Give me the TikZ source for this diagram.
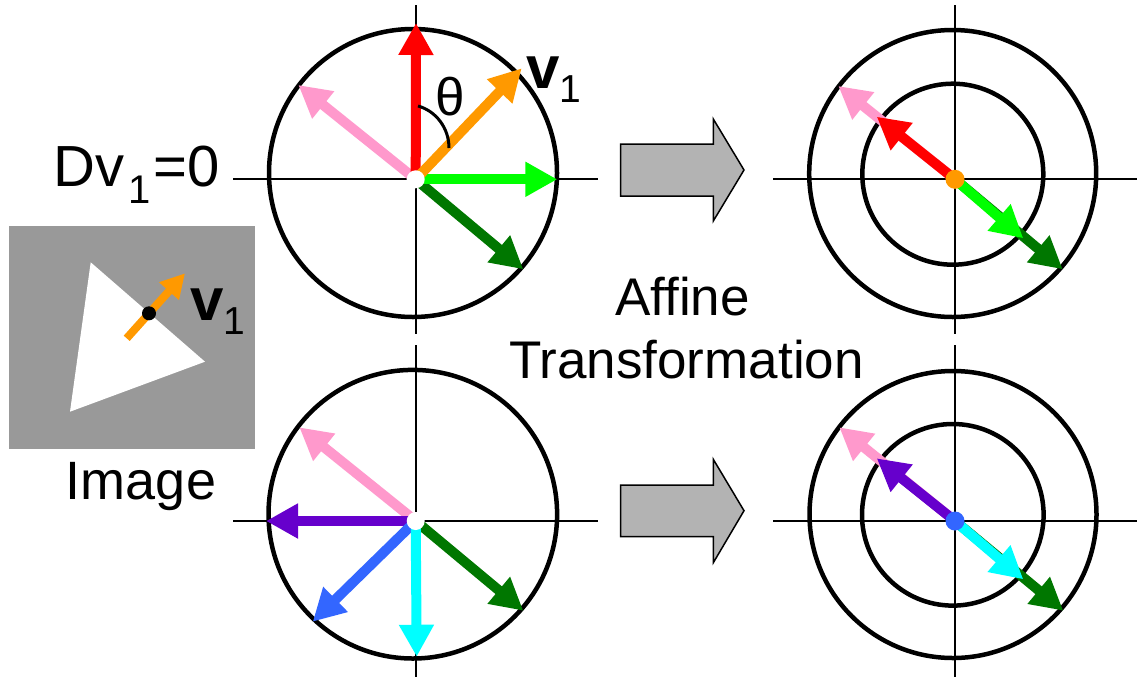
\documentclass[tikz,border=0pt]{standalone}
\usepackage{fontspec}
\setmainfont{Liberation Sans}
\usetikzlibrary{arrows.meta}

\definecolor{vpink}{HTML}{FF99CC}
\definecolor{vred}{HTML}{FF0000}
\definecolor{vorange}{HTML}{FF9900}
\definecolor{vgreen}{HTML}{00FF00}
\definecolor{vdkgreen}{HTML}{007700}
\definecolor{vpurple}{HTML}{6600CC}
\definecolor{vblue}{HTML}{3366FF}
\definecolor{vcyan}{HTML}{00FFFF}
\definecolor{imggray}{HTML}{999999}
\definecolor{blockgray}{HTML}{B3B3B3}

\tikzset{
  vec/.style={line width=10pt, -{Triangle[length=32pt,width=33pt]}},
  smallvec/.style={line width=8pt, -{Triangle[length=24pt,width=25pt]}},
  axisline/.style={line width=2pt, black},
  ring/.style={line width=4.5pt, black},
  blockarrow/.style={draw=black, line width=1.5pt, fill=blockgray, line join=miter},
  lbl/.style={inner sep=0pt, outer sep=0pt},
}
\newcommand{\bigtxt}{\fontsize{53}{60}\selectfont}
\newcommand{\vlabel}{{\fontsize{60}{60}\selectfont\bfseries v}\raisebox{-14pt}{\fontsize{39}{39}\selectfont 1}}

\begin{document}
\begin{tikzpicture}[x=1pt, y=-1pt]
\useasboundingbox (0,0) rectangle (1139,678);

% ---------- origins of the four vector fans ----------
\coordinate (O1) at (415.7,179.3);
\coordinate (O2) at (955,179.3);
\coordinate (O3) at (415.7,521);
\coordinate (O4) at (955,521);

% ---------- axes ----------
\coordinate (h1a) at (233,179.3);  \coordinate (h1b) at (598,179.3);
\coordinate (v1a) at (415.7,5);    \coordinate (v1b) at (415.7,334);
\coordinate (h2a) at (773,179.3);  \coordinate (h2b) at (1137,179.3);
\coordinate (v2a) at (955,5);      \coordinate (v2b) at (955,334);
\coordinate (h3a) at (233,521);    \coordinate (h3b) at (598,521);
\coordinate (v3a) at (415.7,345);  \coordinate (v3b) at (415.7,677);
\coordinate (h4a) at (773,521);    \coordinate (h4b) at (1137,521);
\coordinate (v4a) at (955,345);    \coordinate (v4b) at (955,677);
\foreach \a/\b in {h1a/h1b,v1a/v1b,h2a/h2b,v2a/v2b,h3a/h3b,v3a/v3b,h4a/h4b,v4a/v4b}
  \draw[axisline] (\a) -- (\b);

% ---------- circles ----------
\draw[ring] (413,173) circle[radius=144];
\draw[ring] (952.7,173.5) circle[radius=143.5];
\draw[ring] (952.8,174.2) circle[radius=90.5];
\draw[ring] (412.8,514.2) circle[radius=144.3];
\draw[ring] (953,514.5) circle[radius=143.5];
\draw[ring] (952.8,514.8) circle[radius=90.8];

% ---------- top left: vectors before the transformation ----------
\coordinate (t1pink) at (298.3,85);
\coordinate (t1red) at (416,23);
\coordinate (t1orange) at (521.7,68.3);
\coordinate (t1green) at (557.3,179.3);
\coordinate (t1dk) at (523.3,269.3);
\draw[vec, vpink] (O1) -- (t1pink);
\draw[vec, vdkgreen] (O1) -- (t1dk);
\draw[vec, vgreen] (O1) -- (t1green);
\draw[vec, vred] (O1) -- (t1red);
\draw[vec, vorange] (O1) -- (t1orange);
\fill[white] (O1) circle[radius=9];

% angle between the red vector and v1
\coordinate (arcA) at (418,106);
\coordinate (arcB) at (449,148);
\draw[line width=3pt] (arcA) .. controls (436,111) and (449,128) .. (arcB);
\node[lbl, font=\bigtxt] (theta) at (450,97) {θ};
\node[lbl, anchor=base west] (vtop) at (526,88.3) {\vlabel};

% ---------- top right: vectors after the transformation ----------
\coordinate (t2pink) at (838.3,86);
\coordinate (t2red) at (876.7,116.7);
\coordinate (t2green) at (1023.3,238.3);
\coordinate (t2dk) at (1062.7,269.3);
\draw[vec, vpink] (O2) -- (t2pink);
\draw[vec, vdkgreen] (O2) -- (t2dk);
\draw[vec, vred] (O2) -- (t2red);
\draw[vec, vgreen] (O2) -- (t2green);
\fill[vorange] (O2) circle[radius=9.5];

% ---------- bottom left ----------
\coordinate (t3pink) at (299.3,427.3);
\coordinate (t3purple) at (266,521);
\coordinate (t3blue) at (312.7,621.7);
\coordinate (t3cyan) at (416.7,656.7);
\coordinate (t3dk) at (523.3,610.7);
\draw[vec, vpink] (O3) -- (t3pink);
\draw[vec, vpurple] (O3) -- (t3purple);
\draw[vec, vblue] (O3) -- (t3blue);
\draw[vec, vdkgreen] (O3) -- (t3dk);
\draw[vec, vcyan] (O3) -- (t3cyan);
\fill[white] (O3) circle[radius=9];

% ---------- bottom right ----------
\coordinate (t4pink) at (839.3,427.3);
\coordinate (t4purple) at (876.7,458.3);
\coordinate (t4cyan) at (1023.3,579.3);
\coordinate (t4dk) at (1063.3,610.7);
\draw[vec, vpink] (O4) -- (t4pink);
\draw[vec, vdkgreen] (O4) -- (t4dk);
\draw[vec, vpurple] (O4) -- (t4purple);
\draw[vec, vcyan] (O4) -- (t4cyan);
\fill[vblue] (O4) circle[radius=9.5];

% ---------- block arrows ----------
\draw[blockarrow] (620.7,144) -- (713.3,144) -- (713.3,119) -- (744,170)
  -- (713.3,221) -- (713.3,196) -- (620.7,196) -- cycle;
\draw[blockarrow] (620.7,485) -- (713.3,485) -- (713.3,459.3) -- (744,510.7)
  -- (713.3,562.7) -- (713.3,536.7) -- (620.7,536.7) -- cycle;

\node[lbl, font=\bigtxt, anchor=base] (affine) at (682.5,315) {Affine};
\node[lbl, font=\bigtxt, anchor=base] (transf) at (686.5,378.3) {Transformation};

% ---------- image panel ----------
\fill[imggray] (9,226) rectangle (255,449.3);
\fill[white] (90.7,262.3) -- (205,361.7) -- (70,411.7) -- cycle;
\coordinate (imgtail) at (126.7,338.3);
\coordinate (imgtip) at (185,273.3);
\draw[smallvec, vorange] (imgtail) -- (imgtip);
\fill[black] (149,313.3) circle[radius=7];
\node[lbl, anchor=base west] (vimg) at (190,320) {\vlabel};
\node[lbl, font=\fontsize{54}{60}\selectfont, anchor=base] (image) at (141,499.3) {Image};

% ---------- constraint label ----------
\node[lbl, font=\fontsize{58}{60}\selectfont, anchor=base west] (cond) at (53.4,186.7)
  {Dv\kern4pt\raisebox{-16.7pt}{\fontsize{40}{40}\selectfont 1}\kern3pt=0};
\end{tikzpicture}
\end{document}
